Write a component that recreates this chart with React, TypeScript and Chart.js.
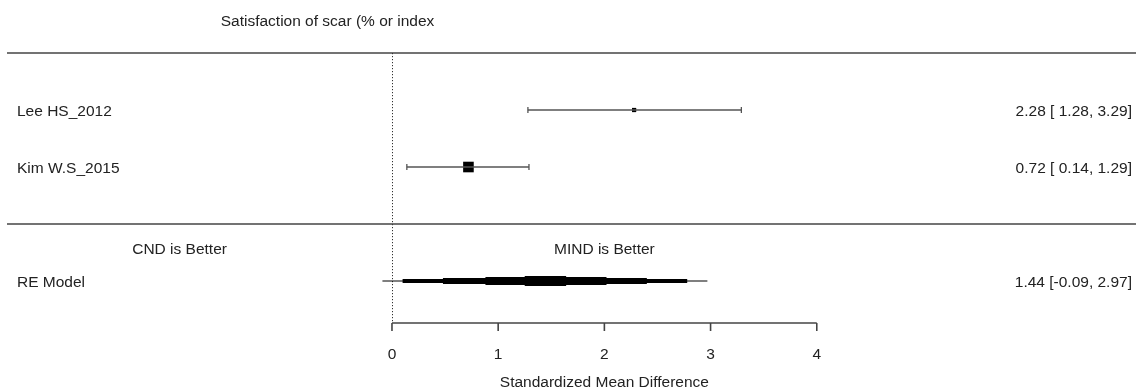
import React, { useEffect, useRef } from "react";
import { Chart, registerables } from "chart.js";

Chart.register(...registerables);

// ---- data ----
const studies = ["Lee HS_2012", "Kim W.S_2015"];
const estimates = [2.28, 0.72];
const ciLower = [1.28, 0.14];
const ciUpper = [3.29, 1.29];
const studyRows = [2, 1];

const reLabel = "RE Model";
const reEstimate = 1.44;
const reLower = [-0.09, 0.1, 0.48, 0.88, 1.25];
const reUpper = [2.97, 2.78, 2.4, 2.02, 1.64];
const reRow = -1;

const xTicks = [0, 1, 2, 3, 4];
const title = "Satisfaction of scar (% or index";
const xTitle = "Standardized Mean Difference";
const leftNote = "CND is Better";
const rightNote = "MIND is Better";

// ---- layout (data units) ----
const XMIN = -3.691;
const XMAX = 7.006;
const YMIN = -2.912;
const YMAX = 3.93;
const LABEL_X = -3.531;
const RIGHT_X = 6.968;
const TITLE_X = -0.607;
const TITLE_ROW = 3.58;
const TOP_LINE_ROW = 3;
const SEP_ROW = 0;
const AXIS_ROW = -1.737;
const TICKLABEL_ROW = -2.26;
const XTITLE_ROW = -2.75;
const NOTE_ROW = -0.42;
const NOTE_LEFT_X = -2;
const NOTE_RIGHT_X = 2;
const RE_WIDTHS = [1.2, 4, 6, 8, 10];
const TEXT_DY = 1.5;

const FONT = "15.5px 'Liberation Sans', Arial, sans-serif";
const TEXT = "#222";
const LINE = "#444";

const fmt = (v: number) => v.toFixed(2);
const fmtCI = (est: number, lo: number, hi: number) => {
  const a = lo < 0 ? fmt(lo) : " " + fmt(lo);
  return `${fmt(est)} [${a}, ${fmt(hi)}]`;
};

// square size from precision (inverse variance), metafor-like
const ciWidths = ciUpper.map((u, i) => u - ciLower[i]);
const weights = ciWidths.map((w) => 1 / (w * w));
const wMin = Math.min(...weights);
const wMax = Math.max(...weights);
const pointRadii = weights.map((w) => 3 + 4.5 * ((w - wMin) / (wMax - wMin)));

const forestPlugin = {
  id: "forest",
  beforeDatasetsDraw(chart: any) {
    const { ctx, scales } = chart;
    const x = scales.x;
    const y = scales.y;
    const px = (v: number) => x.getPixelForValue(v);
    const py = (v: number) => y.getPixelForValue(v);
    const ty = (v: number) => py(v) + TEXT_DY;
    ctx.save();
    // horizontal rules
    ctx.strokeStyle = LINE;
    ctx.lineWidth = 1.6;
    [TOP_LINE_ROW, SEP_ROW].forEach((r) => {
      ctx.beginPath();
      ctx.moveTo(px(LABEL_X) - 10, py(r));
      ctx.lineTo(px(XMAX), py(r));
      ctx.stroke();
    });
    // dotted zero line
    ctx.setLineDash([1.2, 1.8]);
    ctx.lineWidth = 1;
    ctx.strokeStyle = "#333";
    ctx.beginPath();
    ctx.moveTo(Math.round(px(0)) + 0.5, py(TOP_LINE_ROW));
    ctx.lineTo(Math.round(px(0)) + 0.5, py(AXIS_ROW));
    ctx.stroke();
    ctx.setLineDash([]);
    // axis
    ctx.strokeStyle = LINE;
    ctx.lineWidth = 1.6;
    ctx.beginPath();
    ctx.moveTo(px(xTicks[0]), py(AXIS_ROW));
    ctx.lineTo(px(xTicks[xTicks.length - 1]), py(AXIS_ROW));
    ctx.stroke();
    xTicks.forEach((t) => {
      ctx.beginPath();
      ctx.moveTo(px(t), py(AXIS_ROW));
      ctx.lineTo(px(t), py(AXIS_ROW) + 8);
      ctx.stroke();
    });
    // CI caps
    ctx.strokeStyle = "#555";
    ctx.lineWidth = 1.3;
    studyRows.forEach((r, i) => {
      [ciLower[i], ciUpper[i]].forEach((v) => {
        ctx.beginPath();
        ctx.moveTo(px(v), py(r) - 3);
        ctx.lineTo(px(v), py(r) + 3);
        ctx.stroke();
      });
    });
    // texts
    ctx.fillStyle = TEXT;
    ctx.font = FONT;
    ctx.textBaseline = "middle";
    ctx.textAlign = "center";
    ctx.fillText(title, px(TITLE_X), ty(TITLE_ROW));
    ctx.fillText(leftNote, px(NOTE_LEFT_X), ty(NOTE_ROW));
    ctx.fillText(rightNote, px(NOTE_RIGHT_X), ty(NOTE_ROW));
    xTicks.forEach((t) => ctx.fillText(String(t), px(t), ty(TICKLABEL_ROW)));
    ctx.fillText(xTitle, px(2), ty(XTITLE_ROW));
    ctx.textAlign = "left";
    studies.forEach((s, i) => ctx.fillText(s, px(LABEL_X), ty(studyRows[i])));
    ctx.fillText(reLabel, px(LABEL_X), ty(reRow));
    ctx.textAlign = "right";
    studies.forEach((s, i) =>
      ctx.fillText(fmtCI(estimates[i], ciLower[i], ciUpper[i]), px(RIGHT_X), ty(studyRows[i]))
    );
    ctx.fillText(fmtCI(reEstimate, reLower[0], reUpper[0]), px(RIGHT_X), ty(reRow));
    ctx.restore();
  },
};

export default function App() {
  const ref = useRef<HTMLCanvasElement | null>(null);
  useEffect(() => {
    if (!ref.current) return;
    const datasets: any[] = [];
    studies.forEach((s, i) => {
      datasets.push({
        type: "line",
        label: s + " CI",
        data: [
          { x: ciLower[i], y: studyRows[i] },
          { x: ciUpper[i], y: studyRows[i] },
        ],
        borderColor: "#555",
        borderWidth: 1.3,
        pointRadius: 0,
        borderCapStyle: "butt",
      });
    });
    reLower.forEach((lo, k) => {
      datasets.push({
        type: "line",
        label: "RE level " + k,
        data: [
          { x: lo, y: reRow },
          { x: reUpper[k], y: reRow },
        ],
        borderColor: "#000",
        borderWidth: RE_WIDTHS[k],
        pointRadius: 0,
        borderCapStyle: "butt",
      });
    });
    datasets.push({
      type: "scatter",
      label: "Estimates",
      data: estimates.map((e, i) => ({ x: e, y: studyRows[i] })),
      pointStyle: "rect",
      pointRadius: pointRadii,
      backgroundColor: "#000",
      borderColor: "#000",
      borderWidth: 0,
    });
    const chart = new Chart(ref.current, {
      type: "scatter",
      data: { datasets },
      options: {
        animation: false,
        responsive: true,
        maintainAspectRatio: false,
        layout: { padding: 0, autoPadding: false },
        plugins: { legend: { display: false }, tooltip: { enabled: false } },
        scales: {
          x: { type: "linear", min: XMIN, max: XMAX, display: false },
          y: { type: "linear", min: YMIN, max: YMAX, display: false },
        },
      },
      plugins: [forestPlugin],
    } as any);
    return () => chart.destroy();
  }, []);
  return (
    <div style={{ position: "fixed", left: 0, top: 0, width: 1136, height: 390, background: "#fff" }}>
      <canvas ref={ref} />
    </div>
  );
}
